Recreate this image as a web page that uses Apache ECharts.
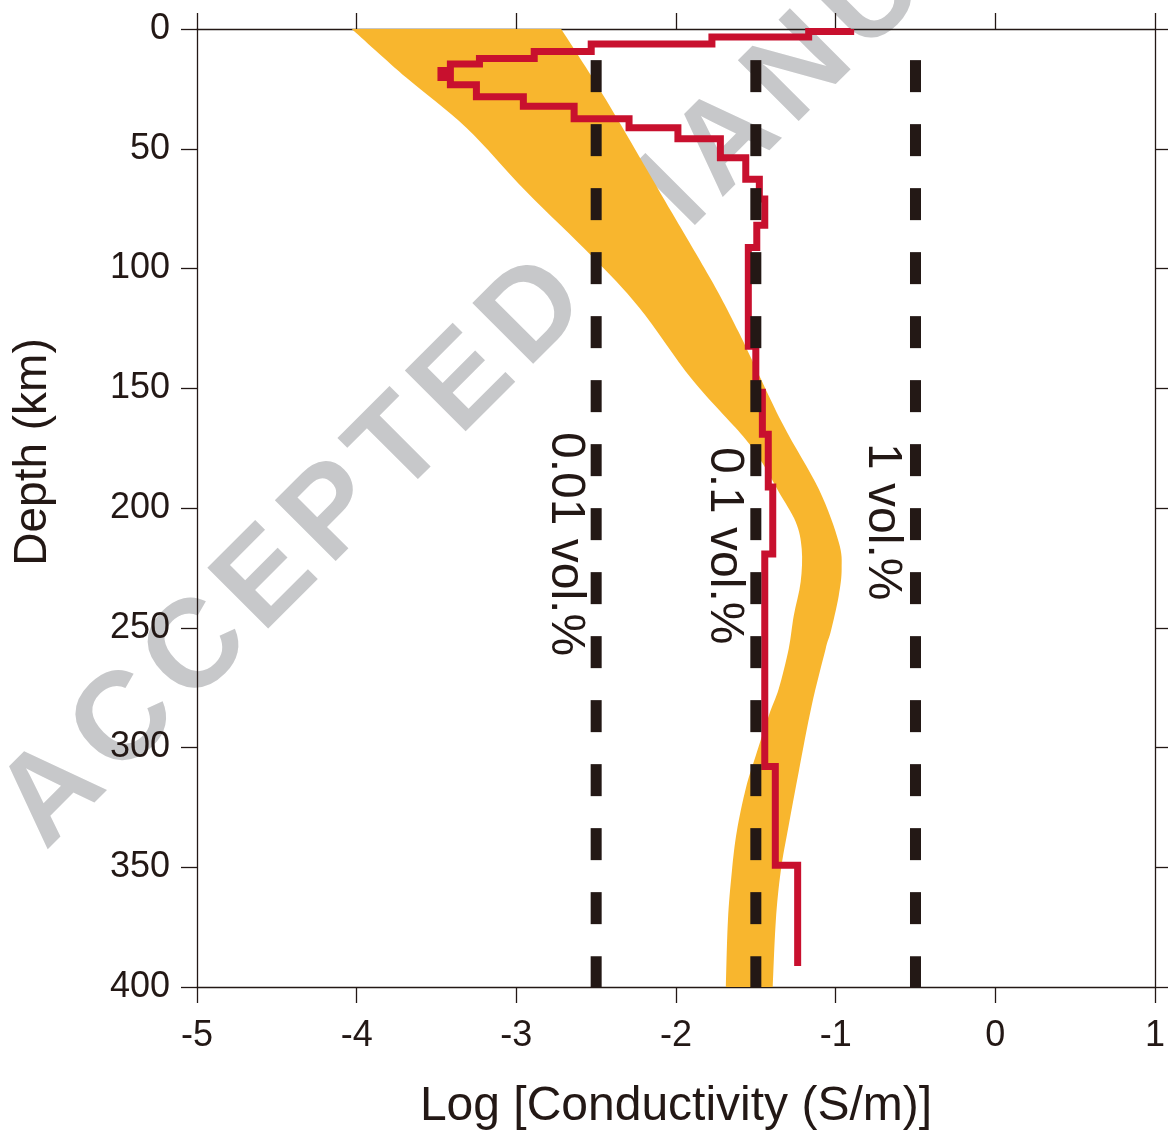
<!DOCTYPE html>
<html><head><meta charset="utf-8">
<script src="https://cdn.jsdelivr.net/npm/echarts@6/dist/echarts.min.js"></script>
<style>html,body{margin:0;padding:0;background:#fff}#c{width:1168px;height:1136px}</style>
</head><body><div id="c"></div>
<script>
// ---- Data ----
// Red layered conductivity model: top depth (km) of each layer and its log10 conductivity
const layerTop = [0, 1.0, 3.3, 6.25, 9.4, 12.3, 14.6, 17.3, 20.2, 23.3, 28.3, 32.3, 37.5, 41.25, 45.8, 53.75, 62.7, 71.0, 81.9, 91.25, 132.5, 151.7, 169.2, 191.25, 219.2, 307.9, 349.2];
const layerLogCond = [-0.906, -1.169, -1.775, -2.531, -2.888, -3.231, -3.413, -3.472, -3.413, -3.25, -2.956, -2.638, -2.294, -1.988, -1.722, -1.563, -1.478, -1.444, -1.494, -1.547, -1.5, -1.459, -1.422, -1.394, -1.444, -1.378, -1.238];
const modelBottom = 391.25;

// Orange band: left and right boundaries
const bandLeftDepth = [0, 20.4, 41.25, 67.9, 95, 116.25, 146.25, 170, 180.8, 193.3, 205.8, 217.1, 230.8, 245, 258.75, 275.4, 286.7, 303.3, 317, 335, 351.7, 372.5, 400];
const bandLeftLog = [-4.031, -3.688, -3.313, -2.938, -2.525, -2.231, -1.9, -1.58, -1.4625, -1.356, -1.25, -1.2125, -1.219, -1.2625, -1.294, -1.356, -1.419, -1.5, -1.5625, -1.619, -1.65, -1.675, -1.6875];
const bandRightDepth = [0, 29.6, 76.7, 104.6, 126.7, 164.2, 192.1, 214.2, 225.4, 236.7, 251.7, 258.75, 282.5, 310, 332.5, 351.7, 372.5, 400];
const bandRightLog = [-2.719, -2.4375, -2.025, -1.781, -1.606, -1.3375, -1.106, -0.981, -0.9625, -0.981, -1.031, -1.0625, -1.15, -1.231, -1.294, -1.344, -1.375, -1.394];

// Melt fraction reference lines
const volLogCond = [-2.5, -1.5, -0.5];
const volLabels = ['0.01 vol.%', '0.1 vol.%', '1 vol.%'];
const volDepthRange = [13, 400];

// Axes
const xTicks = [-5, -4, -3, -2, -1, 0, 1];
const yTicks = [0, 50, 100, 150, 200, 250, 300, 350, 400];
const xTitle = 'Log [Conductivity (S/m)]';
const yTitle = 'Depth (km)';
const watermarkWords = ['ACCEPTED', 'MANUSCRIPT'];

// ---- Build ----
const stepPath = [];
for (let i = 0; i < layerTop.length; i++) {
  const bot = i + 1 < layerTop.length ? layerTop[i + 1] : modelBottom;
  stepPath.push([layerLogCond[i], layerTop[i]]);
  stepPath.push([layerLogCond[i], bot]);
}

const FONT = '"Liberation Sans", Arial, Helvetica, sans-serif';
const INK = '#231815';

const chart = echarts.init(document.getElementById('c'), null, {renderer: 'canvas'});

// smooth open curve through pixel points (Catmull-Rom as cubic Beziers)
function curvePath(pts, moveFirst) {
  let d = (moveFirst ? 'M' : 'L') + pts[0][0].toFixed(2) + ' ' + pts[0][1].toFixed(2);
  for (let i = 0; i < pts.length - 1; i++) {
    const p0 = pts[Math.max(i - 1, 0)], p1 = pts[i], p2 = pts[i + 1], p3 = pts[Math.min(i + 2, pts.length - 1)];
    const c1 = [p1[0] + (p2[0] - p0[0]) / 6, p1[1] + (p2[1] - p0[1]) / 6];
    const c2 = [p2[0] - (p3[0] - p1[0]) / 6, p2[1] - (p3[1] - p1[1]) / 6];
    d += ' C' + c1[0].toFixed(2) + ' ' + c1[1].toFixed(2) + ' ' + c2[0].toFixed(2) + ' ' + c2[1].toFixed(2) + ' ' + p2[0].toFixed(2) + ' ' + p2[1].toFixed(2);
  }
  return d;
}

// watermark letters
const wmAdv = {A:.722,C:.722,E:.667,P:.667,T:.611,D:.722,M:.833,N:.722,U:.722,S:.667,R:.722,I:.278};
const wmSize = 125, wmGap = 12;
function wmWord(word, sx, sy) {
  const d = [Math.SQRT1_2, -Math.SQRT1_2], up = [-Math.SQRT1_2, -Math.SQRT1_2];
  let s = 0; const out = [];
  for (const ch of word) {
    const w = wmAdv[ch] * wmSize;
    const u = s + w / 2, v = 0.35 * wmSize;
    out.push({
      type: 'text', z: -10, silent: true,
      x: sx + u * d[0] + v * up[0], y: sy + u * d[1] + v * up[1],
      rotation: Math.PI / 4,
      style: {text: ch, fill: '#c7c8ca', fontSize: wmSize, fontWeight: 'bold', fontFamily: FONT, align: 'center', verticalAlign: 'middle'}
    });
    s += w + wmGap;
  }
  return out;
}

const volLabelPos = [[565, 432], [724, 447], [882, 443]];

const graphics = [].concat(
  wmWord(watermarkWords[0], 52, 858),
  wmWord(watermarkWords[1], 645, 288),
  [{
    type: 'text', x: 33, y: 452, rotation: Math.PI / 2, z: 10,
    style: {text: yTitle, fill: INK, fontSize: 46, fontFamily: FONT, align: 'center', verticalAlign: 'middle'}
  }],
  volLabels.map((t, i) => ({
    type: 'text', x: volLabelPos[i][0], y: volLabelPos[i][1], rotation: -Math.PI / 2, z: 10,
    style: {text: t, fill: INK, fontSize: 48, fontFamily: FONT, align: 'left', verticalAlign: 'middle'}
  }))
);

const axisCommon = {
  type: 'value', min: -5, max: 1, interval: 1,
  axisLine: {show: true, onZero: false, lineStyle: {color: INK, width: 1.3}},
  axisTick: {show: true, inside: false, length: 16, lineStyle: {color: INK, width: 1.3}},
  splitLine: {show: false}
};
const yCommon = {
  type: 'value', min: 0, max: 400, interval: 50, inverse: true,
  axisLine: {show: true, onZero: false, lineStyle: {color: INK, width: 1.3}},
  axisTick: {show: true, inside: false, length: 16, lineStyle: {color: INK, width: 1.3}},
  splitLine: {show: false}
};

const option = {
  animation: false,
  backgroundColor: '#ffffff',
  grid: {left: 197, right: 11, top: 29, bottom: 147, containLabel: false},
  xAxis: [
    Object.assign({}, axisCommon, {
      position: 'bottom',
      axisLabel: {show: true, fontSize: 36, fontFamily: FONT, color: INK, margin: 31,
        formatter: v => xTicks.includes(v) ? String(v) : ''},
      name: xTitle, nameLocation: 'middle', nameGap: 96,
      nameTextStyle: {fontSize: 48, fontFamily: FONT, color: INK}
    }),
    Object.assign({}, axisCommon, {position: 'top', axisLabel: {show: false}})
  ],
  yAxis: [
    Object.assign({}, yCommon, {
      position: 'left',
      axisLabel: {show: true, fontSize: 36, fontFamily: FONT, color: INK, margin: 27,
        formatter: v => yTicks.includes(v) ? String(v) : ''}
    }),
    Object.assign({}, yCommon, {position: 'right', axisLabel: {show: false}})
  ],
  graphic: {elements: graphics},
  series: [
    {
      type: 'custom', name: 'band', z: 1, silent: true,
      xAxisIndex: 0, yAxisIndex: 0,
      data: [[bandLeftLog[0], bandLeftDepth[0]]],
      renderItem: function (params, api) {
        const left = bandLeftLog.map((v, i) => api.coord([v, bandLeftDepth[i]]));
        const right = bandRightLog.map((v, i) => api.coord([v, bandRightDepth[i]])).reverse();
        const d = curvePath(left, true) + ' ' + curvePath(right, false) + ' Z';
        return {type: 'path', shape: {pathData: d}, style: {fill: '#f8b62e', stroke: null}};
      }
    },
    {
      type: 'line', name: 'model', z: 3, silent: true,
      data: stepPath, symbol: 'none', clip: false,
      lineStyle: {color: '#c8102e', width: 7, join: 'miter', cap: 'butt'}
    }
  ].concat(volLogCond.map((v, i) => ({
    type: 'line', name: volLabels[i], z: 4, silent: true,
    data: [[v, volDepthRange[0]], [v, volDepthRange[1]]], symbol: 'none',
    lineStyle: {color: INK, width: 11, type: [32, 32], dashOffset: 0, cap: 'butt'}
  })))
};
chart.setOption(option);
</script>
</body></html>
